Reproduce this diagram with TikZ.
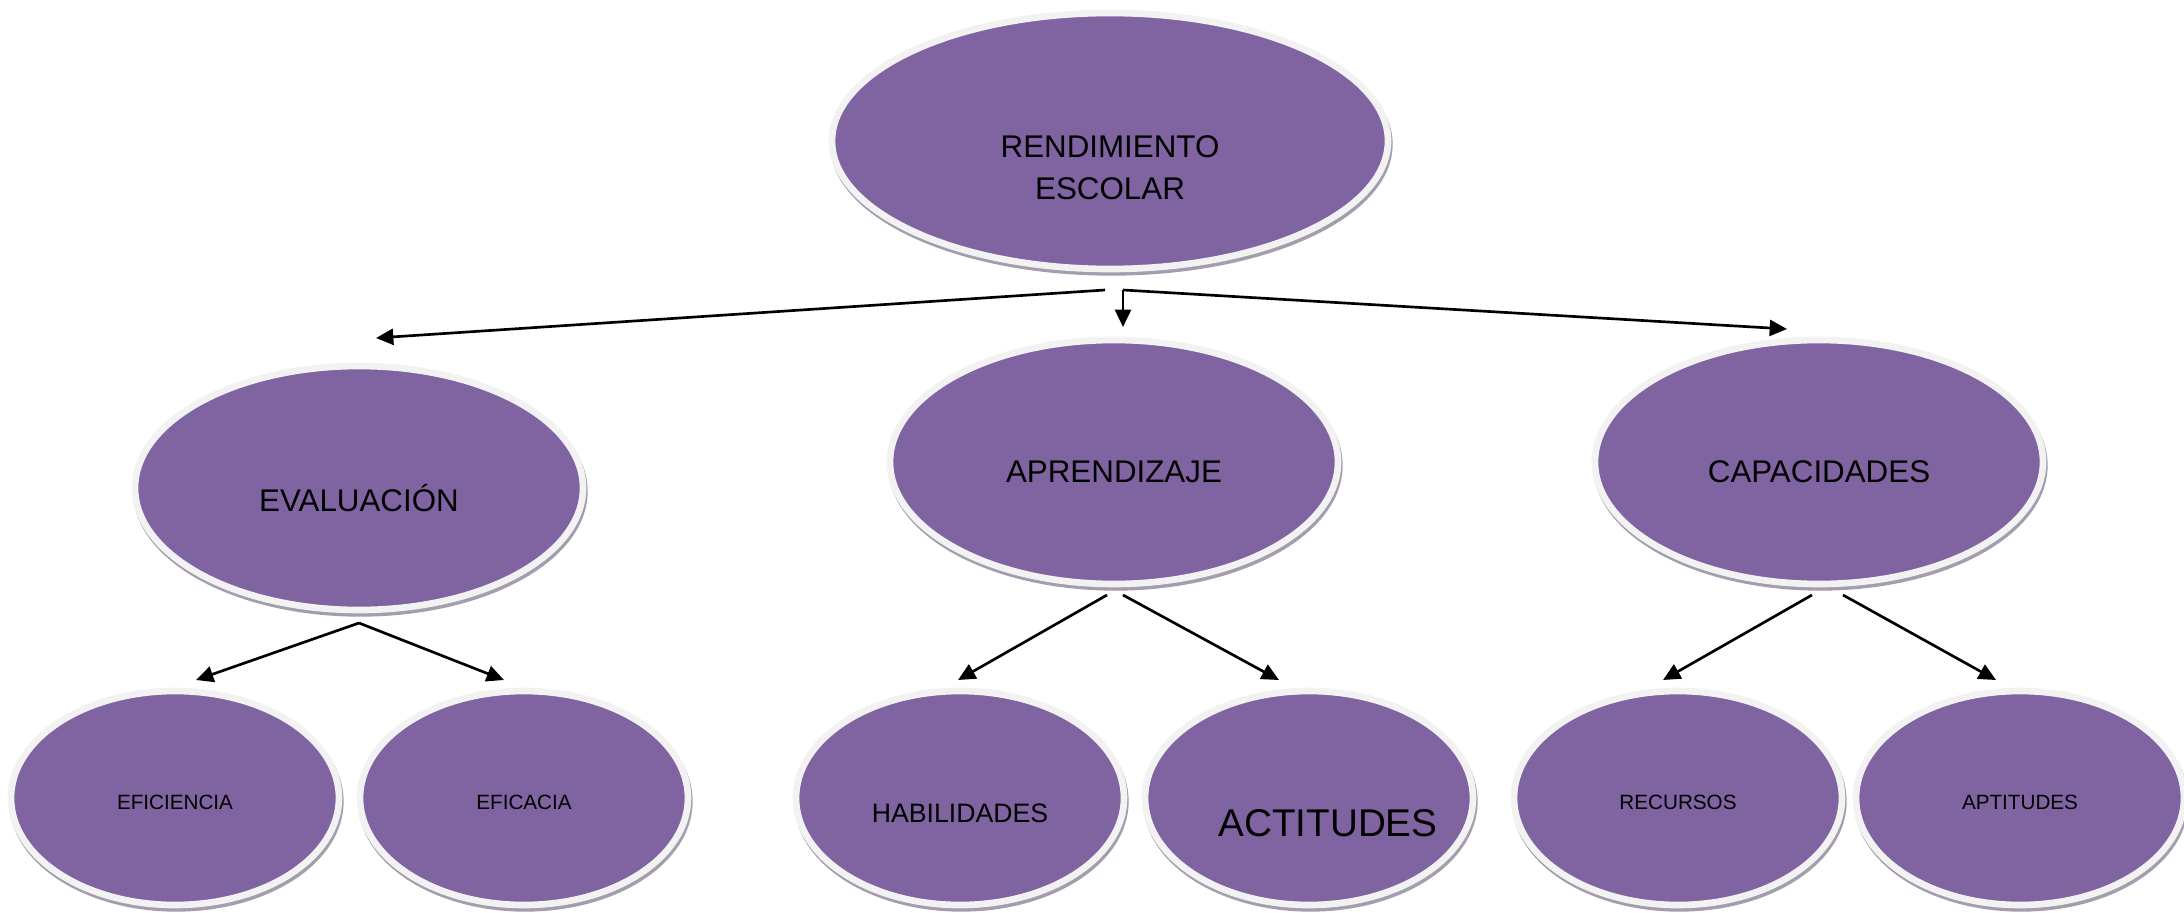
\documentclass[tikz,border=0pt]{standalone}
\usepackage{fontspec}
\setmainfont{Liberation Sans}
\usetikzlibrary{shapes.geometric,shadows,arrows.meta}

\definecolor{lila}{HTML}{8064A2}
\definecolor{aro}{HTML}{F2F2F2}
\definecolor{sombra}{HTML}{A39DAD}

\tikzset{every picture/.style={line width=0.75pt}}
\tikzset{
  elipse/.style={ellipse, fill=lila, draw=aro, line width=5pt, inner sep=0pt,
    drop shadow={shadow xshift=1pt, shadow yshift=-2.5pt, fill=sombra, draw=sombra, opacity=1}},
  raiz/.style={elipse, minimum width=417pt, minimum height=192pt},
  medio/.style={elipse, minimum width=336pt, minimum height=183pt},
  hoja/.style={elipse, minimum width=246pt, minimum height=160.5pt},
  flecha/.style={line width=2pt, -{Triangle[length=13pt,width=12pt]}},
  texto/.style={inner sep=0.75pt, align=center},
}

\begin{document}
\begin{tikzpicture}[x=0.75pt,y=0.75pt,yscale=-1,xscale=1]
\useasboundingbox (0,0) rectangle (2184,913);

% Ellipses
\node[raiz]  (rend)  at (1110,141) {};
\node[medio] (eval)  at (359,488)  {};
\node[medio] (apren) at (1114,462) {};
\node[medio] (capac) at (1819,462) {};
\node[hoja]  (efici) at (175,798)  {};
\node[hoja]  (efica) at (524,798)  {};
\node[hoja]  (habil) at (960,798)  {};
\node[hoja]  (actit) at (1309,798) {};
\node[hoja]  (recur) at (1678,798) {};
\node[hoja]  (aptit) at (2020,798) {};

% Text Node
\node[texto, font=\fontsize{23.5}{31.5}\selectfont] (rendt) at (1110,168) {RENDIMIENTO\\ESCOLAR};
\node[texto, font=\fontsize{23.5}{28}\selectfont] (evalt) at (359,498) {EVALUACIÓN};
\node[texto, font=\fontsize{23.5}{28}\selectfont] (arent) at (1114,472) {APRENDIZAJE};
\node[texto, font=\fontsize{23.5}{28}\selectfont] (capat) at (1819,472) {CAPACIDADES};
\node[texto, font=\fontsize{15.5}{18}\selectfont] (efict) at (175,802) {EFICIENCIA};
\node[texto, font=\fontsize{15.5}{18}\selectfont] (efcat) at (524,802) {EFICACIA};
\node[texto, font=\fontsize{20}{24}\selectfont] (habit) at (960,813) {HABILIDADES};
\node[texto, font=\fontsize{29}{34}\selectfont] (actitt) at (1328,823) {ACTITUDES};
\node[texto, font=\fontsize{15.5}{18}\selectfont] (recut) at (1678,802) {RECURSOS};
\node[texto, font=\fontsize{15.5}{18}\selectfont] (aptitt) at (2020,802) {APTITUDES};

% Connector ends
\coordinate (rendL) at (1105,290);
\coordinate (rendR) at (1123,290);
\coordinate (evalIn) at (376,338);
\coordinate (aprenIn) at (1123,327);
\coordinate (capacIn) at (1787,329);
\coordinate (evalOut) at (359,623);
\coordinate (aprenL) at (1107,595);
\coordinate (aprenR) at (1123,595);
\coordinate (capacL) at (1812,595);
\coordinate (capacR) at (1843,595);
\coordinate (eficiIn) at (196,680);
\coordinate (eficaIn) at (504,680);
\coordinate (habilIn) at (958,680);
\coordinate (actitIn) at (1279,680);
\coordinate (recurIn) at (1663,680);
\coordinate (aptitIn) at (1996,680);

% Connectors
\draw[flecha] (rendL) -- (evalIn);
\draw[flecha] (rendR) -- (aprenIn);
\draw[flecha] (rendR) -- (capacIn);
\draw[flecha] (evalOut) -- (eficiIn);
\draw[flecha] (evalOut) -- (eficaIn);
\draw[flecha] (aprenL) -- (habilIn);
\draw[flecha] (aprenR) -- (actitIn);
\draw[flecha] (capacL) -- (recurIn);
\draw[flecha] (capacR) -- (aptitIn);

\end{tikzpicture}
\end{document}
